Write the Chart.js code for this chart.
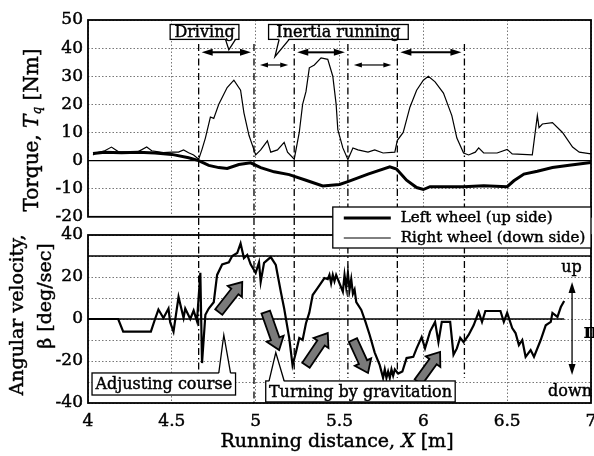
<!DOCTYPE html>
<html>
<head>
<meta charset="utf-8">
<script src="https://cdn.jsdelivr.net/npm/chart.js@4.4.1/dist/chart.umd.min.js"></script>
<style>
  html, body { margin: 0; padding: 0; background: #fff; }
  #wrap { position: relative; width: 594px; height: 456px; overflow: hidden; }
  #torque { position: absolute; left: 0; top: 0; }
  #beta { position: absolute; left: 0; top: 200px; }
</style>
</head>
<body>
<div id="wrap">
  <canvas id="torque" width="594" height="232"></canvas>
  <canvas id="beta" width="594" height="256"></canvas>
</div>
<script>
// right wheel (down side) torque, thin line
const rightX = [4.03,4.05,4.1,4.14,4.18,4.25,4.3,4.35,4.38,4.45,4.5,4.54,4.57,4.6,4.63,4.66,4.68,4.7,4.73,4.75,4.78,4.83,4.87,4.91,4.93,4.96,4.99,5.0,5.03,5.07,5.09,5.13,5.17,5.19,5.23,5.26,5.28,5.3,5.32,5.35,5.39,5.43,5.46,5.48,5.49,5.52,5.55,5.58,5.61,5.67,5.71,5.76,5.83,5.845,5.88,5.92,5.96,6.0,6.03,6.07,6.12,6.17,6.2,6.24,6.27,6.31,6.33,6.36,6.44,6.5,6.53,6.65,6.68,6.69,6.71,6.77,6.83,6.89,6.93,7.0];
const rightTq = [2,2.8,3.5,4.8,3.2,3,3.2,4.8,3.5,2.8,3,3,3.8,2.8,2,0.5,4,8,15.5,15,20,26,28.6,25,17,9,3.8,2,3.8,7,3,3.8,6.5,3,0.5,10,20,24.5,33,34,36.5,36,30,20,11,4.5,0.4,4.5,3.8,3,3.8,2.7,3,7.2,10,19,25,28.6,30,28,24,16,8,2.7,2,3,4.5,2.7,2.7,4,2.4,2,16,11.7,13,13.5,10,4.8,3,2.4];

// left wheel (up side) torque, thick line
const leftX = [4.03,4.1,4.2,4.3,4.4,4.5,4.6,4.66,4.72,4.78,4.83,4.9,4.97,5.03,5.11,5.2,5.3,5.4,5.5,5.55,5.67,5.8,5.84,5.9,5.96,6.0,6.04,6.12,6.24,6.36,6.5,6.54,6.6,6.68,6.77,6.87,7.0];
const leftTq = [2.5,3,2.8,3,2.7,2.2,1,0,-1.7,-2.5,-2.8,-1.4,-0.8,-2.5,-4,-5,-7,-9,-8.5,-7.5,-4.8,-2.2,-3,-7,-9.6,-10.3,-9.3,-9.3,-9.3,-9,-9.3,-7.2,-4.8,-3.8,-2.5,-1.7,-0.7];

// angular velocity beta [deg/sec]
const betaX = [4.0,4.18,4.21,4.375,4.4,4.42,4.45,4.48,4.49,4.51,4.54,4.57,4.58,4.61,4.63,4.65,4.67,4.68,4.7,4.72,4.75,4.77,4.8,4.84,4.86,4.89,4.91,4.93,4.95,4.97,5.0,5.02,5.03,5.05,5.09,5.12,5.15,5.17,5.2,5.22,5.24,5.26,5.28,5.3,5.32,5.34,5.37,5.41,5.43,5.44,5.45,5.46,5.47,5.48,5.49,5.52,5.53,5.54,5.55,5.56,5.57,5.58,5.59,5.6,5.63,5.655,5.68,5.71,5.74,5.76,5.77,5.78,5.79,5.8,5.81,5.82,5.83,5.85,5.875,5.9,5.94,5.96,5.99,6.01,6.04,6.07,6.09,6.11,6.16,6.18,6.2,6.22,6.24,6.27,6.3,6.33,6.35,6.37,6.46,6.48,6.5,6.53,6.55,6.57,6.59,6.61,6.64,6.66,6.7,6.73,6.76,6.77,6.8,6.82,6.84];
const betaVal = [0,0,-6,-6,0,4.5,0.5,5,-1.5,-6,10.5,0.5,5,0,4,-1,22,-21,2,5,8,21,26,27,30,31.4,36,29,30.5,26,22,27,17.6,26.7,29.5,25.7,13,5,-9,-22,-16,-9,-10,-2,3,11.4,14.8,19.5,19,21,17,21,18,21,19,13,21,15,22,14,19,12,14,8,4.3,-1.4,-7.6,-16,-22,-28,-24,-28,-25,-28,-24,-27,-24,-26,-25,-18.6,-18,-14,-8.6,-14,-6,-1.4,-11,-1.4,-1.4,-17,-14,-9,-11,-7.6,-3,3.3,-1.4,3.8,3.8,-1.4,2.9,-4.3,-6.7,-12.4,-10,-18,-14.8,-18,-10,-3,-1.4,2.9,1,5.7,8.6];

const xTickLabels = [4, 4.5, 5, 5.5, 6, 6.5, 7];
const betaTickLabels = [-40, -20, 0, 20, 40];

// phase boundaries and intervals
const phaseLines = [4.66, 4.99, 5.23, 5.55, 5.845, 6.245];
const drivingSpans = [[4.66, 4.99], [5.23, 5.55], [5.845, 6.245]];
const inertiaSpans = [[4.99, 5.23], [5.55, 5.845]];
// turning arrows on the beta panel: [x0, b0, x1, b1]
const turnArrows = [[4.78,3.3,4.92,17.6],[5.06,3.3,5.14,-14.8],[5.30,-22,5.43,-6.7],[5.58,-10,5.67,-25.7],[5.97,-30,6.10,-15.7]];

const SERIF = '"DejaVu Serif", "Liberation Serif", serif';
const INK = '#000';

const pts = (xs, ys) => xs.map((x, i) => ({ x: x, y: ys[i] }));

function line(ctx, x0, y0, x1, y1) {
  ctx.beginPath(); ctx.moveTo(x0, y0); ctx.lineTo(x1, y1); ctx.stroke();
}

// filled text with a thin outline, like the heavy print of the scan
function heavyText(ctx, text, x, y) {
  ctx.fillText(text, x, y);
  ctx.lineWidth = 0.45; ctx.strokeStyle = INK; ctx.setLineDash([]);
  ctx.strokeText(text, x, y);
}

function hArrow(ctx, x0, x1, y, lw, hl, hw) {
  ctx.save();
  ctx.setLineDash([]);
  ctx.lineWidth = lw; ctx.strokeStyle = INK; ctx.fillStyle = INK;
  line(ctx, x0 + hl * 0.8, y, x1 - hl * 0.8, y);
  ctx.beginPath(); ctx.moveTo(x0, y); ctx.lineTo(x0 + hl, y - hw); ctx.lineTo(x0 + hl, y + hw); ctx.closePath(); ctx.fill();
  ctx.beginPath(); ctx.moveTo(x1, y); ctx.lineTo(x1 - hl, y - hw); ctx.lineTo(x1 - hl, y + hw); ctx.closePath(); ctx.fill();
  ctx.restore();
}

function vArrow(ctx, x, y0, y1) {
  ctx.save();
  ctx.lineWidth = 1.3; ctx.strokeStyle = INK; ctx.fillStyle = INK;
  line(ctx, x, y0 + 8, x, y1 - 8);
  ctx.beginPath(); ctx.moveTo(x, y0); ctx.lineTo(x - 3.5, y0 + 11); ctx.lineTo(x + 3.5, y0 + 11); ctx.closePath(); ctx.fill();
  ctx.beginPath(); ctx.moveTo(x, y1); ctx.lineTo(x - 3.5, y1 - 11); ctx.lineTo(x + 3.5, y1 - 11); ctx.closePath(); ctx.fill();
  ctx.restore();
}

function fatArrow(ctx, x0, y0, x1, y1) {
  const len = Math.hypot(x1 - x0, y1 - y0);
  const sw = 4.5, hw = 9, hl = 12;
  ctx.save();
  ctx.translate(x0, y0);
  ctx.rotate(Math.atan2(y1 - y0, x1 - x0));
  ctx.beginPath();
  ctx.moveTo(0, -sw); ctx.lineTo(len - hl, -sw); ctx.lineTo(len - hl, -hw); ctx.lineTo(len, 0);
  ctx.lineTo(len - hl, hw); ctx.lineTo(len - hl, sw); ctx.lineTo(0, sw); ctx.closePath();
  ctx.fillStyle = '#7a7a7a'; ctx.fill();
  ctx.lineWidth = 1.8; ctx.strokeStyle = INK; ctx.stroke();
  ctx.restore();
}

function callout(ctx, l, t, r, b, text, base0, base1, tipX, tipY) {
  ctx.save();
  ctx.setLineDash([]);
  ctx.lineWidth = 1.3; ctx.strokeStyle = INK; ctx.fillStyle = '#fff';
  ctx.fillRect(l, t, r - l, b - t);
  ctx.strokeRect(l, t, r - l, b - t);
  const edge = tipY > b ? b : t;
  const inward = tipY > b ? -1.5 : 1.5;
  ctx.beginPath();
  ctx.moveTo(base0, edge + inward); ctx.lineTo(tipX, tipY); ctx.lineTo(base1, edge + inward); ctx.closePath();
  ctx.fill();
  ctx.beginPath();
  ctx.moveTo(base0, edge); ctx.lineTo(tipX, tipY); ctx.lineTo(base1, edge);
  ctx.stroke();
  ctx.fillStyle = INK;
  ctx.font = '16px ' + SERIF;
  ctx.textAlign = 'center'; ctx.textBaseline = 'middle';
  heavyText(ctx, text, (l + r) / 2, (t + b) / 2 + 1);
  ctx.restore();
}

// text made of parts (regular / italic / subscript), optionally rotated
function richText(ctx, cx, cy, parts, vertical) {
  ctx.save();
  ctx.translate(cx, cy);
  if (vertical) ctx.rotate(-Math.PI / 2);
  let w = 0;
  parts.forEach(p => { ctx.font = p.font; p.w = ctx.measureText(p.t).width; w += p.w; });
  let xx = -w / 2;
  ctx.textBaseline = 'middle'; ctx.textAlign = 'left'; ctx.fillStyle = INK;
  parts.forEach(p => { ctx.font = p.font; heavyText(ctx, p.t, xx, p.dy || 0); xx += p.w; });
  ctx.restore();
}

const torqueDecor = {
  id: 'torqueDecor',
  beforeDatasetsDraw(chart) {
    const { ctx, chartArea: a, scales: { x, y } } = chart;
    ctx.save();
    ctx.strokeStyle = INK;
    ctx.lineWidth = 1.3;
    line(ctx, a.left, y.getPixelForValue(0), a.right, y.getPixelForValue(0));
    ctx.setLineDash([7, 3, 1.5, 3]);
    phaseLines.forEach(v => {
      const px = x.getPixelForValue(v);
      line(ctx, px, y.getPixelForValue(41.5), px, chart.height);
    });
    ctx.setLineDash([]);
    ctx.lineWidth = 1.8;
    ctx.strokeRect(a.left, a.top, a.right - a.left, a.bottom - a.top);
    ctx.restore();
  },
  afterDraw(chart) {
    const { ctx, scales: { x, y } } = chart;
    drivingSpans.forEach(s => hArrow(ctx, x.getPixelForValue(s[0]) + 3, x.getPixelForValue(s[1]) - 3, y.getPixelForValue(38.5), 2, 11, 3.5));
    inertiaSpans.forEach(s => hArrow(ctx, x.getPixelForValue(s[0]) + 6, x.getPixelForValue(s[1]) - 6, y.getPixelForValue(34), 1.2, 8, 2.5));
    callout(ctx, x.getPixelForValue(4.49), y.getPixelForValue(48.4), x.getPixelForValue(4.9), y.getPixelForValue(43.1),
      'Driving', x.getPixelForValue(4.82), x.getPixelForValue(4.88), x.getPixelForValue(4.84), y.getPixelForValue(39.4));
    callout(ctx, x.getPixelForValue(5.077), y.getPixelForValue(48.4), x.getPixelForValue(5.91), y.getPixelForValue(43.1),
      'Inertia running', x.getPixelForValue(5.14), x.getPixelForValue(5.2), x.getPixelForValue(5.115), y.getPixelForValue(37));
    richText(ctx, 33, 130, [
      { t: 'Torque, ', font: '20px ' + SERIF },
      { t: 'T', font: 'italic 20px ' + SERIF },
      { t: 'q', font: 'italic 12px ' + SERIF, dy: 5 },
      { t: ' [Nm]', font: '20px ' + SERIF }
    ], true);
  }
};

const betaDecor = {
  id: 'betaDecor',
  beforeDatasetsDraw(chart) {
    const { ctx, chartArea: a, scales: { x, y } } = chart;
    ctx.save();
    ctx.strokeStyle = INK;
    ctx.lineWidth = 1.3;
    line(ctx, a.left, y.getPixelForValue(0), x.getPixelForValue(6.84), y.getPixelForValue(0));
    line(ctx, a.left, y.getPixelForValue(30), a.right, y.getPixelForValue(30));
    ctx.setLineDash([7, 3, 1.5, 3]);
    phaseLines.forEach((v, i) => {
      const px = x.getPixelForValue(v);
      line(ctx, px, 32, px, y.getPixelForValue(i === 1 ? -40 : -28));
    });
    ctx.setLineDash([]);
    ctx.lineWidth = 1.8;
    ctx.strokeRect(a.left, a.top, a.right - a.left, a.bottom - a.top);
    ctx.restore();
  },
  afterDraw(chart) {
    const { ctx, chartArea: a, scales: { x, y } } = chart;
    turnArrows.forEach(r => fatArrow(ctx, x.getPixelForValue(r[0]), y.getPixelForValue(r[1]), x.getPixelForValue(r[2]), y.getPixelForValue(r[3])));
    callout(ctx, x.getPixelForValue(4.024), y.getPixelForValue(-25.7), x.getPixelForValue(4.88), y.getPixelForValue(-36.2),
      'Adjusting course', x.getPixelForValue(4.78), x.getPixelForValue(4.85), x.getPixelForValue(4.81), y.getPixelForValue(-7.6));
    callout(ctx, x.getPixelForValue(5.06), y.getPixelForValue(-29.5), x.getPixelForValue(6.19), y.getPixelForValue(-39.5),
      'Turning by gravitation', x.getPixelForValue(5.08), x.getPixelForValue(5.17), x.getPixelForValue(5.12), y.getPixelForValue(-16));

    // legend box
    const lx0 = x.getPixelForValue(5.46), lx1 = a.right, ly0 = a.top - 28, ly1 = a.top + 13;
    ctx.save();
    ctx.fillStyle = '#fff'; ctx.strokeStyle = INK; ctx.lineWidth = 1.3;
    ctx.fillRect(lx0, ly0, lx1 - lx0, ly1 - ly0);
    ctx.strokeRect(lx0, ly0, lx1 - lx0, ly1 - ly0);
    ctx.lineWidth = 3; line(ctx, lx0 + 11, ly0 + 11, lx0 + 58, ly0 + 11);
    ctx.lineWidth = 1; line(ctx, lx0 + 11, ly0 + 31, lx0 + 58, ly0 + 31);
    ctx.fillStyle = INK; ctx.font = '15px ' + SERIF; ctx.textBaseline = 'middle'; ctx.textAlign = 'left';
    heavyText(ctx, 'Left wheel (up side)', lx0 + 68, ly0 + 11);
    heavyText(ctx, 'Right wheel (down side)', lx0 + 68, ly0 + 31);

    // up / down marker
    ctx.font = '16px ' + SERIF; ctx.textAlign = 'center';
    heavyText(ctx, 'up', x.getPixelForValue(6.884), y.getPixelForValue(24.3));
    heavyText(ctx, 'down', x.getPixelForValue(6.875), y.getPixelForValue(-34.8));
    ctx.font = 'bold 20px ' + SERIF; ctx.textAlign = 'left';
    ctx.fillText('\u03c0', x.getPixelForValue(6.955), y.getPixelForValue(-6.7));
    ctx.restore();
    vArrow(ctx, x.getPixelForValue(6.887), y.getPixelForValue(17.6), y.getPixelForValue(-26.7));

    richText(ctx, 18, 115, [{ t: 'Angular velocity,', font: '19px ' + SERIF }], true);
    richText(ctx, 46, 96, [{ t: '\u03b2 [deg/sec]', font: '19px ' + SERIF }], true);
    richText(ctx, 337, 242, [
      { t: 'Running distance, ', font: '19px ' + SERIF },
      { t: 'X', font: 'italic 19px ' + SERIF },
      { t: ' [m]', font: '19px ' + SERIF }
    ], false);
  }
};

const gridOpts = { color: '#777', lineWidth: 1, drawTicks: false, tickLength: 0 };
const borderOpts = { display: false, dash: [1.5, 2] };
const tickFont = { family: SERIF, size: 17 };
const tickStroke = { textStrokeColor: INK, textStrokeWidth: 0.45 };

new Chart(document.getElementById('torque'), {
  type: 'line',
  data: {
    datasets: [
      { label: 'Right wheel (down side)', data: pts(rightX, rightTq), borderColor: INK, borderWidth: 1.2, pointRadius: 0, tension: 0 },
      { label: 'Left wheel (up side)', data: pts(leftX, leftTq), borderColor: INK, borderWidth: 3, pointRadius: 0, tension: 0 }
    ]
  },
  options: {
    responsive: false,
    animation: false,
    layout: { padding: { left: 0, right: 3, top: 20, bottom: 11 } },
    plugins: { legend: { display: false }, tooltip: { enabled: false } },
    scales: {
      x: {
        type: 'linear', min: 4, max: 7,
        ticks: { display: false, stepSize: 0.5 },
        grid: gridOpts, border: borderOpts,
        afterFit: s => { s.height = 0; s.paddingLeft = 0; s.paddingRight = 0; }
      },
      y: {
        min: -20, max: 50,
        ticks: Object.assign({ stepSize: 10, padding: 5, font: tickFont, color: INK }, tickStroke),
        grid: gridOpts, border: borderOpts,
        afterFit: s => { s.width = 88; }
      }
    }
  },
  plugins: [torqueDecor]
});

new Chart(document.getElementById('beta'), {
  type: 'line',
  data: {
    datasets: [
      { label: 'beta', data: pts(betaX, betaVal), borderColor: INK, borderWidth: 2.2, pointRadius: 0, tension: 0 }
    ]
  },
  options: {
    responsive: false,
    animation: false,
    layout: { padding: { left: 0, right: 3, top: 35, bottom: 0 } },
    plugins: { legend: { display: false }, tooltip: { enabled: false } },
    scales: {
      x: {
        type: 'linear', min: 4, max: 7,
        ticks: Object.assign({ stepSize: 0.5, padding: 8, font: tickFont, color: INK, maxRotation: 0,
          callback: v => xTickLabels.includes(v) ? String(v) : '' }, tickStroke),
        grid: gridOpts, border: borderOpts,
        afterFit: s => { s.height = 53; s.paddingLeft = 0; s.paddingRight = 0; }
      },
      y: {
        min: -40, max: 40,
        ticks: Object.assign({ stepSize: 10, padding: 5, font: tickFont, color: INK, autoSkip: false,
          callback: v => betaTickLabels.includes(v) ? String(v) : '' }, tickStroke),
        grid: gridOpts, border: borderOpts,
        afterFit: s => { s.width = 88; }
      }
    }
  },
  plugins: [betaDecor]
});
</script>
</body>
</html>
